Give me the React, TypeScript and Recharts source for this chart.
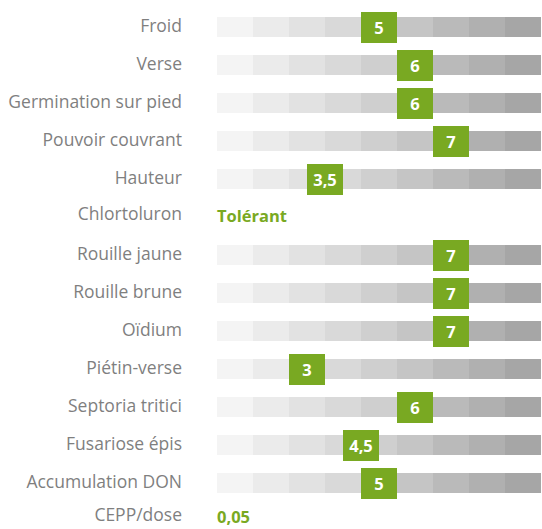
import React from 'react';
import { BarChart, Bar, XAxis, YAxis, LabelList } from 'recharts';

const labels = [
  'Froid', 'Verse', 'Germination sur pied', 'Pouvoir couvrant', 'Hauteur', 'Chlortoluron',
  'Rouille jaune', 'Rouille brune', 'Oïdium', 'Piétin-verse', 'Septoria tritici',
  'Fusariose épis', 'Accumulation DON', 'CEPP/dose',
];
const scores = [5, 6, 6, 7, 3.5, null, 7, 7, 7, 3, 6, 4.5, 5, null];
const texts = [null, null, null, null, null, 'Tolérant', null, null, null, null, null, null, null, '0,05'];
const cellColors = ['#f4f4f4', '#ebebeb', '#e2e2e2', '#d9d9d9', '#cfcfcf', '#c5c5c5', '#bababa', '#b0b0b0', '#a6a6a6'];

const GREEN = '#79a922';
const FONT = '"Open Sans", sans-serif';
// text-only rows sit a little higher in the original layout
const textRowShift: Record<string, number> = { Chlortoluron: -2, 'CEPP/dose': -5 };

const data = labels.map((label, i) => {
  const row: any = { label, score: scores[i], text: texts[i] };
  if (scores[i] != null) cellColors.forEach((_, k) => { row['c' + k] = 1; });
  // score v fills cell v, i.e. the range [v-1, v]
  row.mk = scores[i] != null ? [scores[i]! - 1, scores[i]] : texts[i] ? [0, 1] : null;
  return row;
});

const MarkerShape = (p: any) => {
  if (!p.payload || p.payload.text) return <g />;
  return <rect x={p.x} y={p.y} width={p.width} height={p.height} fill={GREEN} />;
};

const MarkerLabel = (p: any) => {
  const row = data[p.index];
  if (!row) return null;
  const cy = p.y + p.height / 2;
  if (row.text) {
    return (
      <text x={p.x} y={cy + (textRowShift[row.label] || 0)} dy={6} textAnchor="start" fill={GREEN} fontFamily={FONT} fontSize={16.5} fontWeight="bold">
        {row.text}
      </text>
    );
  }
  return (
    <text x={p.x + p.width / 2} y={cy} dy={6} textAnchor="middle" fill="#ffffff" fontFamily={FONT} fontSize={16.5} fontWeight="bold">
      {String(row.score).replace('.', ',')}
    </text>
  );
};

const LabelTick = (p: any) => {
  const v = p.payload.value;
  return (
    <text x={p.x} y={p.y + (textRowShift[v] || 0)} dy={5} textAnchor="end" fill="#7f7f7f" fontFamily={FONT} fontSize={17.5}>
      {v}
    </text>
  );
};

export default function App() {
  return (
    <div style={{ position: 'absolute', left: 0, top: 0, width: 542, height: 529, overflow: 'hidden', background: '#fff' }}>
      <BarChart
        width={542}
        height={540}
        data={data}
        layout="vertical"
        margin={{ top: 8, right: 1, bottom: 0, left: 0 }}
      >
        <XAxis type="number" domain={[0, 9]} hide />
        <YAxis
          type="category"
          dataKey="label"
          width={217}
          axisLine={false}
          tickLine={false}
          tickMargin={29}
          interval={0}
          tick={LabelTick}
        />
        <YAxis yAxisId="m" type="category" dataKey="label" hide />
        {cellColors.map((c, k) => (
          <Bar key={k} dataKey={'c' + k} stackId="scale" fill={c} barSize={20} isAnimationActive={false} />
        ))}
        <Bar dataKey="mk" yAxisId="m" barSize={31} shape={MarkerShape} isAnimationActive={false}>
          <LabelList dataKey="mk" content={MarkerLabel} />
        </Bar>
      </BarChart>
    </div>
  );
}
